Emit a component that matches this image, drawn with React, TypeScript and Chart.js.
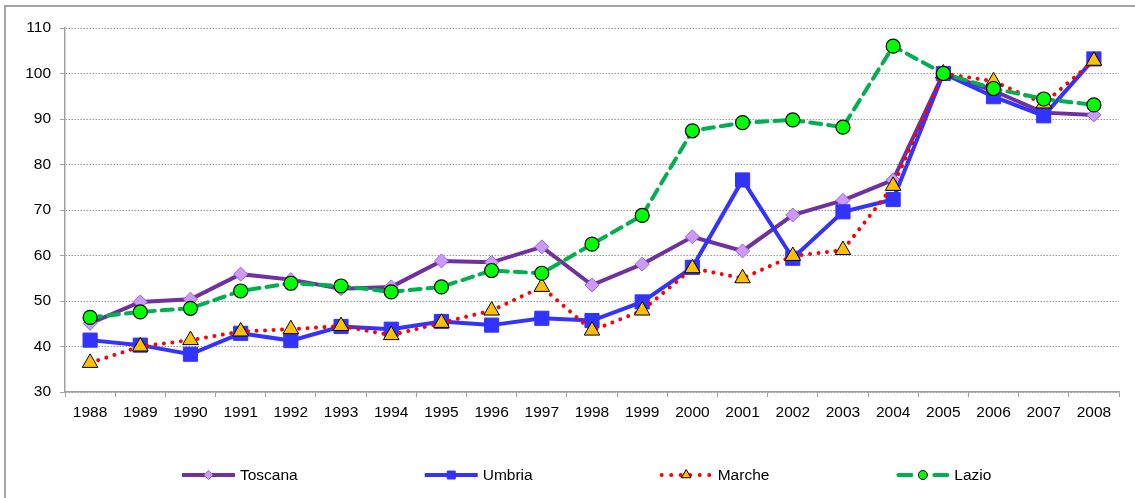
import React, { useEffect, useRef } from 'react';
import { Chart, registerables } from 'chart.js';

Chart.register(...registerables);

const years = ['1988', '1989', '1990', '1991', '1992', '1993', '1994', '1995', '1996', '1997', '1998', '1999', '2000', '2001', '2002', '2003', '2004', '2005', '2006', '2007', '2008'];

const toscana = [45.1, 49.8, 50.4, 55.9, 54.7, 52.7, 53.1, 58.8, 58.5, 61.9, 53.5, 58.1, 64.1, 61.0, 68.9, 72.1, 76.6, 100.0, 96.2, 91.4, 90.9];
const umbria = [41.4, 40.3, 38.3, 42.9, 41.3, 44.4, 43.8, 45.5, 44.7, 46.2, 45.7, 49.8, 57.4, 76.6, 59.4, 69.6, 72.3, 100.0, 94.9, 90.7, 103.2];
const marche = [36.4, 40.0, 41.4, 43.3, 43.8, 44.5, 42.5, 45.2, 47.9, 53.1, 43.5, 47.9, 57.2, 55.0, 59.9, 61.2, 75.3, 100.0, 98.3, 93.4, 102.8];
const lazio = [46.4, 47.6, 48.4, 52.2, 53.9, 53.3, 52.0, 53.1, 56.7, 56.1, 62.5, 68.8, 87.4, 89.2, 89.8, 88.2, 106.0, 100.0, 96.7, 94.4, 93.1];

const seriesNames = ['Toscana', 'Umbria', 'Marche', 'Lazio'];

const yMin = 30;
const yMax = 110;
const yStep = 10;

const FONT = "'Liberation Sans', Arial, Helvetica, sans-serif";

function drawMarker(ctx: CanvasRenderingContext2D, style: string, x: number, y: number, r: number, fill: string, stroke: string, lw: number) {
  ctx.save();
  ctx.beginPath();
  if (style === 'rectRot') {
    ctx.moveTo(x, y - r);
    ctx.lineTo(x + r, y);
    ctx.lineTo(x, y + r);
    ctx.lineTo(x - r, y);
    ctx.closePath();
  } else if (style === 'rect') {
    ctx.rect(x - r, y - r, 2 * r, 2 * r);
  } else if (style === 'triangle') {
    const h = r * 1.5;
    ctx.moveTo(x, y - h / 2 - r * 0.25);
    ctx.lineTo(x + r * 0.866, y + h / 2 - r * 0.25);
    ctx.lineTo(x - r * 0.866, y + h / 2 - r * 0.25);
    ctx.closePath();
  } else {
    ctx.arc(x, y, r, 0, Math.PI * 2);
  }
  ctx.fillStyle = fill;
  ctx.fill();
  ctx.lineWidth = lw;
  ctx.strokeStyle = stroke;
  ctx.stroke();
  ctx.restore();
}

const legendPlugin = {
  id: 'excelLegend',
  afterDraw(chart: any) {
    const ctx: CanvasRenderingContext2D = chart.ctx;
    ctx.save();
    ctx.font = `15.5px ${FONT}`;
    let x = 182;
    const y = 475;
    const lineW = 53;
    chart.data.datasets.forEach((ds: any) => {
      ctx.save();
      ctx.strokeStyle = ds.borderColor;
      ctx.lineWidth = ds.borderWidth;
      ctx.setLineDash(ds.legendDash || []);
      ctx.lineCap = ds.borderCapStyle || 'butt';
      ctx.beginPath();
      ctx.moveTo(x + (ds.legendInset || 0), y);
      ctx.lineTo(x + lineW - (ds.legendInset || 0), y);
      ctx.stroke();
      ctx.restore();
      drawMarker(ctx, ds.pointStyle, x + lineW / 2, y, ds.legendMarkerR, ds.pointBackgroundColor, ds.pointBorderColor, 1);
      ctx.fillStyle = '#000';
      ctx.textBaseline = 'middle';
      ctx.textAlign = 'left';
      ctx.fillText(ds.label, x + lineW + 5, y + 1);
      x += lineW + 5 + ctx.measureText(ds.label).width + 127;
    });
    ctx.restore();
  },
};

export default function App() {
  const canvasRef = useRef<HTMLCanvasElement | null>(null);

  useEffect(() => {
    const canvas = canvasRef.current;
    if (!canvas) return;
    Chart.defaults.font.family = FONT;
    Chart.defaults.font.size = 15.5;
    Chart.defaults.color = '#000';

    const chart = new Chart(canvas, {
      type: 'line',
      data: {
        labels: years,
        datasets: [
          {
            label: seriesNames[0],
            data: toscana,
            borderColor: '#7030A0',
            borderWidth: 4,
            pointStyle: 'rectRot',
            pointRadius: 7,
            pointBackgroundColor: '#CC99FF',
            pointBorderColor: '#9966CC',
            pointBorderWidth: 1,
            order: 4,
            legendMarkerR: 4.5,
          } as any,
          {
            label: seriesNames[1],
            data: umbria,
            borderColor: '#3333FF',
            borderWidth: 4,
            pointStyle: 'rect',
            pointRadius: 10,
            pointBackgroundColor: '#3333FF',
            pointBorderColor: '#3333FF',
            pointBorderWidth: 1,
            order: 3,
            legendMarkerR: 4,
          } as any,
          {
            label: seriesNames[2],
            data: marche,
            borderColor: '#FF0000',
            borderWidth: 4,
            borderDash: [0.01, 8.5],
            borderCapStyle: 'round',
            legendDash: [0.01, 9.5],
            legendInset: 2,
            pointStyle: 'triangle',
            pointRadius: 9,
            pointBackgroundColor: '#FFC000',
            pointBorderColor: '#000000',
            pointBorderWidth: 1,
            order: 2,
            legendMarkerR: 5.5,
          } as any,
          {
            label: seriesNames[3],
            data: lazio,
            borderColor: '#00B050',
            borderWidth: 4,
            borderDash: [11, 7],
            borderCapStyle: 'round',
            legendDash: [13, 23],
            legendInset: 2,
            pointStyle: 'circle',
            pointRadius: 7,
            pointBackgroundColor: '#00FF00',
            pointBorderColor: '#000000',
            pointBorderWidth: 1.2,
            order: 1,
            legendMarkerR: 4.5,
          } as any,
        ],
      },
      options: {
        responsive: false,
        maintainAspectRatio: false,
        animation: false,
        layout: { padding: { left: 0, top: 28, right: 16, bottom: 0 } },
        plugins: {
          legend: { display: false },
          tooltip: { enabled: false },
          title: { display: false },
        },
        elements: { line: { tension: 0 } },
        scales: {
          x: {
            type: 'category',
            offset: true,
            grid: {
              display: true,
              offset: true,
              drawOnChartArea: false,
              drawTicks: true,
              tickLength: 5,
              color: '#A0A0A0',
              tickColor: '#A0A0A0',
            },
            border: { display: true, color: '#A0A0A0', width: 1.5 },
            ticks: { padding: 6, maxRotation: 0, autoSkip: false, color: '#000', font: { size: 15.5, family: FONT } },
            afterFit: (scale: any) => { scale.height = 106; },
          },
          y: {
            min: yMin,
            max: yMax,
            grid: {
              display: true,
              drawOnChartArea: true,
              drawTicks: true,
              tickLength: 5,
              color: '#9A9A9A',
              lineWidth: 1,
              tickColor: '#A0A0A0',
              tickBorderDash: [],
            },
            border: { display: true, color: '#A0A0A0', width: 1.5, dash: [1.5, 1.5] },
            ticks: { stepSize: yStep, padding: 9, color: '#000', font: { size: 15.5, family: FONT } },
            afterFit: (scale: any) => { scale.width = 65; },
          },
        },
      },
      plugins: [legendPlugin],
    } as any);

    return () => chart.destroy();
  }, []);

  return (
    <div style={{ position: 'fixed', left: 0, top: 0, width: 1135, height: 498, overflow: 'hidden', background: '#fff' }}>
      <div style={{ position: 'absolute', left: 4, top: 5, width: 1300, height: 700, borderLeft: '2px solid #A6A6A6', borderTop: '2px solid #A6A6A6' }} />
      <canvas ref={canvasRef} width={1135} height={498} style={{ position: 'absolute', left: 0, top: 0, width: 1135, height: 498, display: 'block' }} />
    </div>
  );
}
